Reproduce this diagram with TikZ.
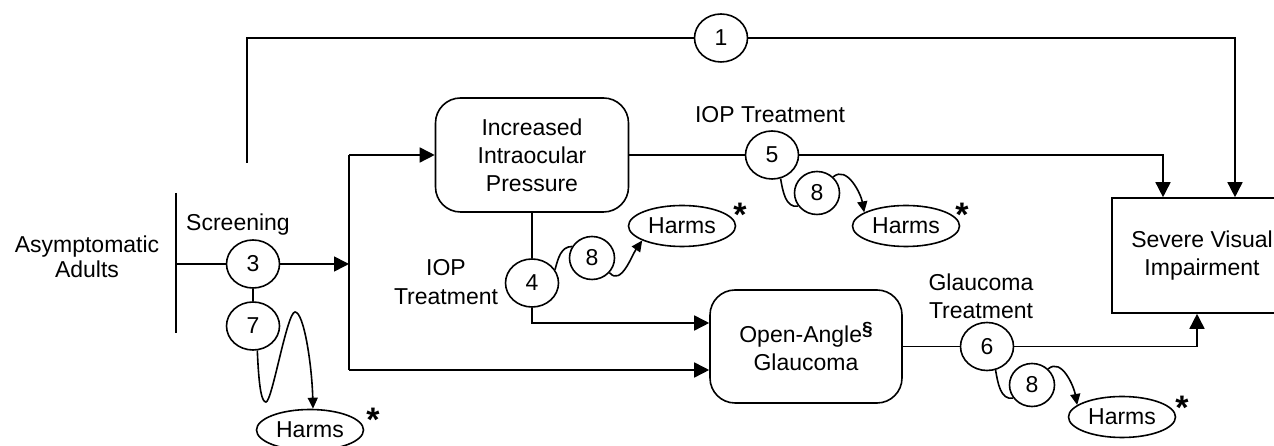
\documentclass[tikz,border=0pt]{standalone}
\usepackage{fontspec}
\setmainfont{Liberation Sans}
\usetikzlibrary{arrows.meta,shapes.geometric}
\begin{document}
\begin{tikzpicture}[x=1pt,y=1pt,
  every node/.style={font=\fontsize{23}{28}\selectfont},
  ln/.style={line width=1.6pt},
  arr/.style={ln,-{Triangle[length=15pt,width=15pt]}},
  carr/.style={ln,-{Triangle[length=11pt,width=10pt]}},
  num/.style={ellipse,draw,line width=1.6pt,minimum width=53pt,minimum height=48pt,inner sep=0pt},
  snum/.style={num,minimum width=45pt,minimum height=43pt},
  harm/.style={ellipse,draw,line width=1.6pt,minimum width=107pt,minimum height=41pt,inner sep=0pt},
  rbox/.style={draw,line width=1.6pt,rounded corners=25pt,align=center,inner sep=0pt},
  lbl/.style={align=center,inner sep=0pt},
  ast/.style={font=\fontsize{34}{34}\selectfont\bfseries,inner sep=0pt,anchor=north}]
\useasboundingbox (0,0) rectangle (1274,446);
\clip (0,0) rectangle (1274,446);

% left part
\node[lbl,font=\fontsize{23}{25}\selectfont] (adults) at (87,189) {Asymptomatic\\Adults};
\coordinate (vt) at (176,253);
\coordinate (vb) at (176,113);
\draw[ln] (vt) -- (vb);
\node[lbl] (scr) at (238,221) {Screening};
\node[num] (c3) at (253,182) {3};
\coordinate (j3) at (176,182);
\draw[ln] (j3) -- (c3);
\coordinate (s) at (349,182);
\draw[arr] (c3) -- (s);
\coordinate (st) at (349,291);
\coordinate (sb) at (349,76);
\draw[ln] (st) -- (sb);

\node[num] (c7) at (253,120) {7};
\draw[ln] (c3) -- (c7);
\node[harm] (h1) at (310,16) {Harms};
\node[ast] (a1) at (373,38) {*};
\draw[carr] (c7.-80) .. controls (259,55) and (262,44) .. (266,44)
  .. controls (272,44) and (287,134) .. (295,134)
  .. controls (304,134) and (312,80) .. ([xshift=3pt]h1.north);

% boxes
\node[rbox,minimum width=193pt,minimum height=114pt] (inc) at (532,291) {Increased\\Intraocular\\Pressure};
\node[rbox,minimum width=192pt,minimum height=113pt] (oa) at (806,99.5) {Open-Angle\raisebox{7pt}{\fontsize{19}{19}\selectfont\bfseries §}\\Glaucoma};
\node[draw,ln,minimum width=180pt,minimum height=115pt,align=center,inner sep=0pt] (sv) at (1202,190.5) {Severe Visual\\Impairment};

\draw[arr] (st) -- (inc.west);
\draw[arr] (sb) -- (sb -| oa.west);

% path 1
\node[num] (c1) at (721,408) {1};
\coordinate (p1s) at (247,283);
\coordinate (p1a) at (247,408);
\coordinate (p1b) at (1235,408);
\draw[ln] (p1s) -- (p1a) -- (c1);
\draw[arr] (c1) -- (p1b) -- (p1b |- sv.north);

% path 5
\node[num] (c5) at (772,291) {5};
\draw[ln] (inc.east) -- (c5);
\coordinate (p5) at (1163,291);
\draw[arr] (c5) -- (p5) -- (p5 |- sv.north);
\node[lbl] (l5) at (770,331) {IOP Treatment};
\node[snum] (c8a) at (817,253) {8};
\node[harm] (h2) at (906,220) {Harms};
\node[ast] (a2) at (962,243) {*};
\draw[ln] (c5.-70) to[out=-80,in=190] (c8a.215);
\draw[carr] (c8a.45) to[out=40,in=100] (h2.162);

% path 4
\node[num] (c4) at (532,163) {4};
\draw[ln] (inc.south) -- (c4.north);
\coordinate (p4) at (532,123);
\draw[arr] (c4.south) -- (p4) -- (p4 -| oa.west);
\node[lbl,font=\fontsize{23}{29}\selectfont] (l4) at (446,163.5) {IOP\\Treatment};
\node[snum] (c8b) at (592,188) {8};
\node[harm] (h3) at (682,220) {Harms};
\node[ast] (a3) at (740,243) {*};
\draw[ln] (c4.30) to[out=75,in=180] (c8b.150);
\draw[carr] (c8b.-40) to[out=-50,in=235] (h3.200);

% path 6
\node[num] (c6) at (987,99.5) {6};
\draw[ln] (oa.east) -- (c6);
\coordinate (p6) at (1197,99.5);
\draw[arr] (c6) -- (p6) -- (p6 |- sv.south);
\node[lbl] (l6) at (981,150) {Glaucoma\\Treatment};
\node[snum] (c8c) at (1032,61) {8};
\node[harm] (h4) at (1122,29) {Harms};
\node[ast] (a4) at (1182,50) {*};
\draw[ln] (c6.-70) to[out=-80,in=190] (c8c.215);
\draw[carr] (c8c.45) to[out=40,in=100] (h4.165);
\end{tikzpicture}
\end{document}
